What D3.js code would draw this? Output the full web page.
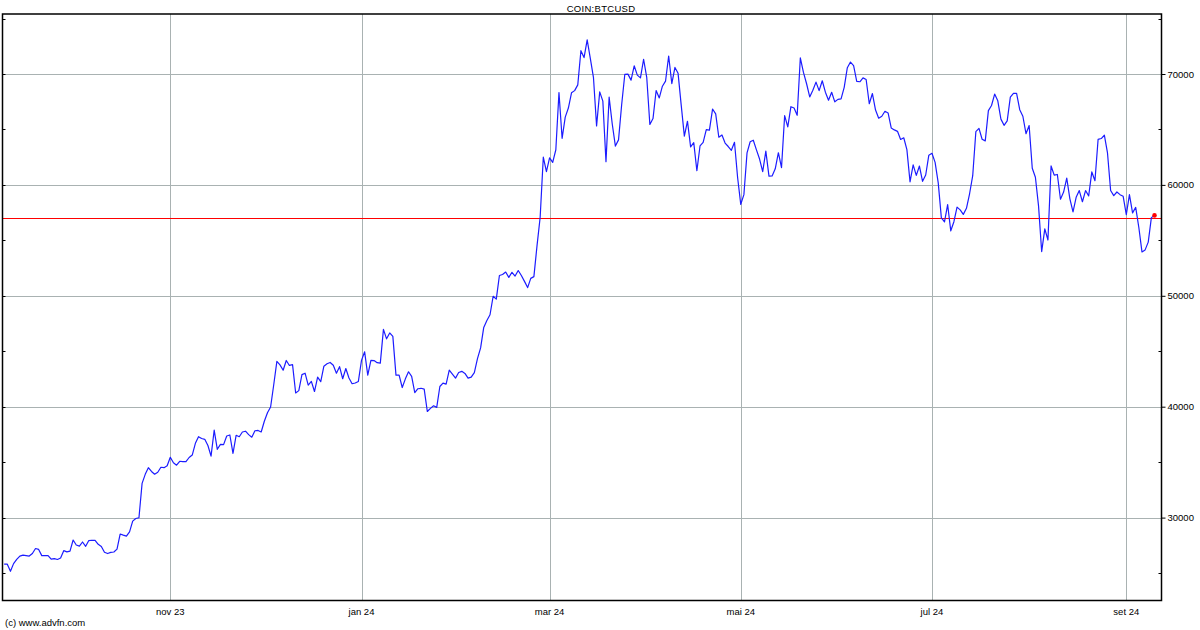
<!DOCTYPE html>
<html>
<head>
<meta charset="utf-8">
<script src="https://cdn.jsdelivr.net/npm/d3@7"></script>
<style>
  html, body { margin: 0; padding: 0; background: #fff; }
  svg { display: block; }
  text { font-family: "Liberation Sans", Arial, sans-serif; font-size: 9.5px; fill: #000; }
</style>
</head>
<body>
<svg id="chart" width="1200" height="630"></svg>
<script>
// ---- data: daily closes of COIN:BTCUSD ----
const title = "COIN:BTCUSD";
const footer = "(c) www.advfn.com";
const firstDay = [2023, 8, 9]; // 9 Sep 2023 (UTC, month 0-based)

const sep23 = [25800, 25800, 25160, 25850, 26230, 26530, 26610, 26570, 26530, 26760, 27210, 27130, 26570, 26580, 26580, 26250, 26300, 26220, 26350, 27020, 26910, 26970];
const oct23 = [27980, 27530, 27430, 27800, 27410, 27930, 27960, 27940, 27590, 27390, 26870, 26760, 26860, 26900, 27160, 28520, 28420, 28330, 28720, 29680, 29920, 29990, 33090, 33900, 34500, 34160, 33910, 34090, 34540, 34500, 34670];
const nov23 = [35440, 34940, 34730, 35080, 35050, 35040, 35420, 35640, 36700, 37300, 37130, 37060, 36500, 35540, 37880, 36160, 36600, 36580, 37360, 37450, 35800, 37420, 37290, 37720, 37790, 37480, 37250, 37830, 37860, 37720];
const dec23 = [38690, 39460, 39970, 41980, 44080, 43770, 43290, 44170, 43720, 43790, 41240, 41450, 42890, 43020, 41940, 42280, 41370, 42660, 42260, 43650, 43870, 43990, 43740, 43020, 43610, 42520, 43440, 42590, 42070, 42140, 42280];
const jan24 = [44180, 44950, 42850, 44180, 44160, 43970, 43930, 46970, 46120, 46650, 46340, 42850, 42840, 41730, 42510, 43150, 42740, 41260, 41620, 41660, 41580, 39570, 39850, 40080, 39940, 41820, 42120, 42030, 43300, 42940, 42580];
const feb24 = [43080, 43190, 43000, 42580, 42660, 43080, 44340, 45300, 47150, 47770, 48290, 49960, 49700, 51830, 51920, 52140, 51660, 52120, 51780, 52280, 51830, 51300, 50740, 51570, 51730, 54520, 57080, 62500, 61200];
const mar24 = [62440, 62030, 63170, 68330, 64200, 66110, 66930, 68300, 68500, 69020, 72100, 71480, 73080, 71400, 69700, 65320, 68390, 67550, 62100, 67910, 65490, 63500, 64060, 67230, 69960, 69990, 69450, 70740, 69900, 69650, 71330];
const apr24 = [69700, 65450, 65980, 68510, 67840, 68900, 69360, 71620, 69140, 70590, 70060, 67190, 64400, 65740, 63430, 63810, 61280, 63510, 63840, 64990, 64940, 66840, 66410, 64300, 64500, 63770, 63460, 63120, 63840, 60640];
const may24 = [58250, 59120, 62890, 63890, 64030, 63160, 62330, 61190, 63050, 60790, 60810, 61450, 62900, 61550, 66250, 65230, 67050, 66940, 66280, 71450, 70140, 69120, 67930, 68530, 69270, 68500, 69390, 68360, 67640, 68350, 67490];
const jun24 = [67710, 67750, 68800, 70570, 71080, 70760, 69340, 69300, 69650, 69500, 67320, 68240, 66750, 66010, 66190, 66640, 66490, 65140, 64960, 64830, 64100, 64250, 63180, 60280, 61800, 60860, 61700, 60320, 60890, 62680];
const jul24 = [62850, 62030, 60180, 57030, 56660, 58230, 55860, 56680, 58000, 57750, 57340, 57890, 59200, 60830, 64800, 65090, 64120, 63970, 66700, 67160, 68190, 67580, 65930, 65370, 65780, 67910, 68250, 68250, 66780, 66190, 64620];
const aug24 = [65350, 61500, 60690, 58110, 53990, 56030, 55030, 61710, 60880, 60940, 58710, 59350, 60610, 58740, 57560, 58880, 59490, 58480, 59490, 59010, 61170, 60380, 64100, 64180, 64480, 62880, 59500, 59030, 59360, 59120, 58970];
const sep24 = [57320, 59120, 57480, 57970, 56160, 53960, 54140, 54840, 57050, 57250];

const lastPriceLine = 57050;

const yMajorTicks = [30000, 40000, 50000, 60000, 70000];
const yMinorTicks = [25000, 35000, 45000, 55000, 65000, 75000];
const monthTickDates = [[2023, 10, 1], [2024, 0, 1], [2024, 2, 1], [2024, 4, 1], [2024, 6, 1], [2024, 8, 1]];
const monthTickLabels = ["nov 23", "jan 24", "mar 24", "mai 24", "jul 24", "set 24"];

// ---- build ----
const closes = [].concat(sep23, oct23, nov23, dec23, jan24, feb24, mar24, apr24, may24, jun24, jul24, aug24, sep24);
const start = new Date(Date.UTC(...firstDay));
const series = closes.map((v, i) => ({ date: d3.utcDay.offset(start, i), value: v }));
const tickDates = monthTickDates.map(d => new Date(Date.UTC(...d)));

const plot = { left: 2.5, right: 1161.5, top: 14, bottom: 600.5 };

const svg = d3.select("#chart");

const x = d3.scaleUtc()
  .domain([new Date(Date.UTC(2023, 10, 1)), new Date(Date.UTC(2024, 8, 1))])
  .range([170.3, 1126.3]);
const y = d3.scaleLinear()
  .domain([30000, 70000])
  .range([517.6, 74]);

const px = v => Math.round(v) + 0.5;

// clip
svg.append("defs").append("clipPath").attr("id", "clip")
  .append("rect")
  .attr("x", plot.left).attr("y", plot.top)
  .attr("width", plot.right - plot.left).attr("height", plot.bottom - plot.top);

// grid
const grid = svg.append("g").attr("stroke", "#a9b2b2").attr("stroke-width", 1);
grid.selectAll("line.h").data(yMajorTicks).join("line")
  .attr("x1", plot.left).attr("x2", plot.right)
  .attr("y1", d => px(y(d))).attr("y2", d => px(y(d)));
grid.selectAll("line.v").data(tickDates).join("line")
  .attr("x1", d => px(x(d))).attr("x2", d => px(x(d)))
  .attr("y1", plot.top).attr("y2", plot.bottom);

// red price line
svg.append("line")
  .attr("x1", plot.left).attr("x2", plot.right)
  .attr("y1", px(y(lastPriceLine))).attr("y2", px(y(lastPriceLine)))
  .attr("stroke", "#ff0000").attr("stroke-width", 1);

// price line
const line = d3.line().x(d => x(d.date)).y(d => y(d.value));
svg.append("path")
  .datum(series)
  .attr("clip-path", "url(#clip)")
  .attr("fill", "none")
  .attr("stroke", "#1c1cff")
  .attr("stroke-width", 1.2)
  .attr("stroke-linejoin", "round")
  .attr("d", line);

// last point dot
const last = series[series.length - 1];
svg.append("circle")
  .attr("cx", x(last.date)).attr("cy", y(last.value))
  .attr("r", 2.3).attr("fill", "#ff0000");

// frame
svg.append("rect")
  .attr("x", plot.left).attr("y", plot.top)
  .attr("width", plot.right - plot.left).attr("height", plot.bottom - plot.top)
  .attr("fill", "none").attr("stroke", "#000").attr("stroke-width", 1.5);

// right axis
const yAxis = d3.axisRight(y).tickValues(yMajorTicks).tickSize(4).tickPadding(2).tickFormat(d3.format("d"));
const gy = svg.append("g").attr("transform", `translate(${plot.right},0)`).call(yAxis);
gy.select(".domain").remove();
gy.selectAll("text").style("font-family", "Liberation Sans, Arial, sans-serif").style("font-size", "9.5px");
gy.selectAll("line").attr("stroke", "#000");

// minor ticks (inside, both sides)
const minor = svg.append("g").attr("stroke", "#000");
minor.selectAll("line.r").data(yMinorTicks).join("line")
  .attr("x1", plot.right - 3).attr("x2", plot.right)
  .attr("y1", d => px(y(d))).attr("y2", d => px(y(d)));
minor.selectAll("line.l").data(yMinorTicks.concat(yMajorTicks)).join("line")
  .attr("x1", plot.left).attr("x2", plot.left + 3)
  .attr("y1", d => px(y(d))).attr("y2", d => px(y(d)));

// bottom labels
svg.append("g").selectAll("text").data(tickDates).join("text")
  .attr("x", d => x(d)).attr("y", 615)
  .attr("text-anchor", "middle")
  .text((d, i) => monthTickLabels[i]);

// title & footer
svg.append("text").attr("x", 601).attr("y", 12).attr("text-anchor", "middle")
  .style("letter-spacing", "0.3px").text(title);
svg.append("text").attr("x", 5).attr("y", 626).text(footer);
</script>
</body>
</html>
